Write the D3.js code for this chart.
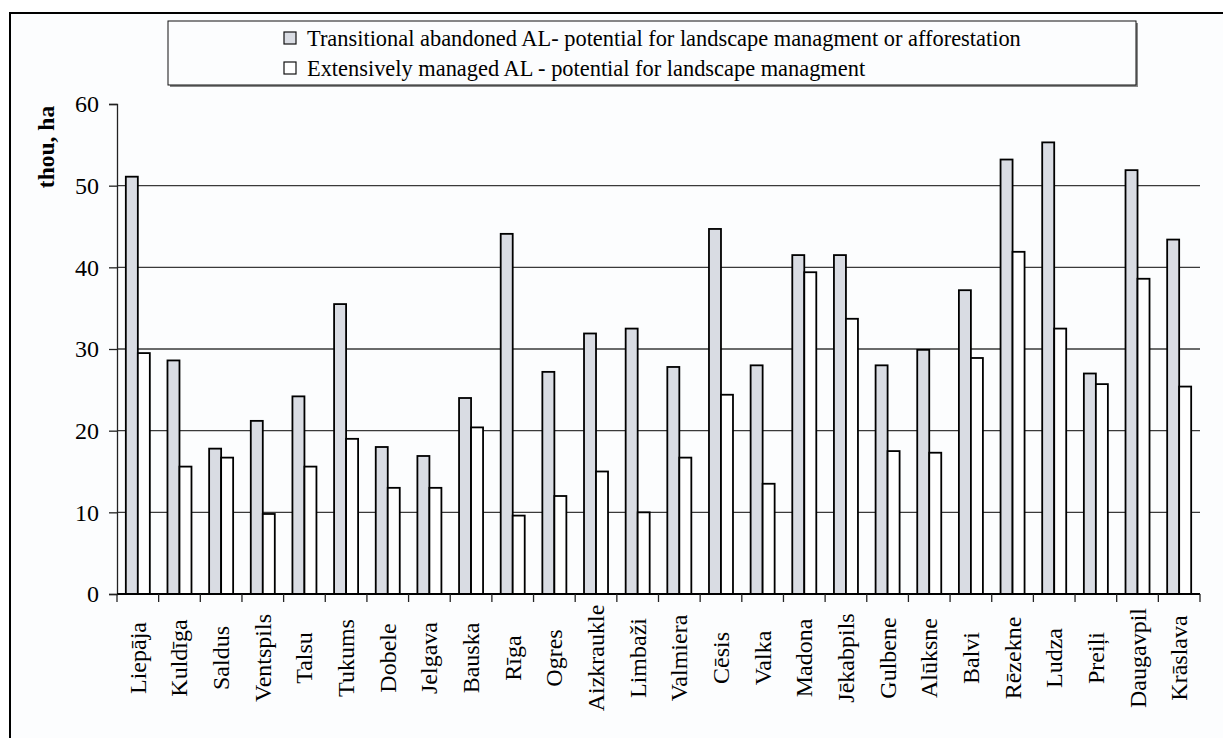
<!DOCTYPE html>
<html>
<head>
<meta charset="utf-8">
<script src="https://cdnjs.cloudflare.com/ajax/libs/d3/7.8.5/d3.min.js"></script>
<style>
  body { margin: 0; background: #ffffff; }
  svg { display: block; }
  text { font-family: "Liberation Serif", "Times New Roman", serif; fill: #000; }
</style>
</head>
<body>
<script>
// districts of Latvia
const districts = ["Liepāja", "Kuldīga", "Saldus", "Ventspils", "Talsu", "Tukums", "Dobele",
  "Jelgava", "Bauska", "Rīga", "Ogres", "Aizkraukle", "Limbaži", "Valmiera", "Cēsis", "Valka",
  "Madona", "Jēkabpils", "Gulbene", "Alūksne", "Balvi", "Rēzekne", "Ludza", "Preiļi",
  "Daugavpil", "Krāslava"];

// thou, ha
const transitional = [51.1, 28.6, 17.8, 21.2, 24.2, 35.5, 18.0, 16.9, 24.0, 44.1, 27.2, 31.9, 32.5,
  27.8, 44.7, 28.0, 41.5, 41.5, 28.0, 29.9, 37.2, 53.2, 55.3, 27.0, 51.9, 43.4];
const extensive = [29.5, 15.6, 16.7, 9.8, 15.6, 19.0, 13.0, 13.0, 20.4, 9.6, 12.0, 15.0, 10.0,
  16.7, 24.4, 13.5, 39.4, 33.7, 17.5, 17.3, 28.9, 41.9, 32.5, 25.7, 38.6, 25.4];

const seriesNames = ["Transitional abandoned AL- potential for landscape managment or afforestation",
  "Extensively managed AL - potential for landscape managment"];
const seriesFill = ["#d9dce3", "#ffffff"];
const yTicks = [0, 10, 20, 30, 40, 50, 60];

const svgWidth = 1223, svgHeight = 738;
const plot = {left: 117, right: 1200, top: 104, bottom: 594};
const serif = "'Liberation Serif', 'Times New Roman', serif";

const svg = d3.select("body").append("svg")
  .attr("width", svgWidth)
  .attr("height", svgHeight);

// chart frame (runs off the right and bottom edge)
svg.append("rect")
  .attr("x", 10).attr("y", 13)
  .attr("width", 1240).attr("height", 760)
  .attr("fill", "#fcfdfe")
  .attr("stroke", "#000").attr("stroke-width", 2);

const x0 = d3.scaleBand()
  .domain(districts)
  .range([plot.left, plot.right])
  .paddingInner(0).paddingOuter(0);

const x1 = d3.scaleBand()
  .domain([0, 1])
  .range([0, x0.bandwidth()])
  .paddingInner(0)
  .paddingOuter(0.735);

const y = d3.scaleLinear()
  .domain([0, 60])
  .range([plot.bottom, plot.top]);

// gridlines
svg.append("g")
  .selectAll("line")
  .data(yTicks.filter(d => d > 0 && d < 60))
  .join("line")
  .attr("x1", plot.left).attr("x2", plot.right)
  .attr("y1", d => y(d)).attr("y2", d => y(d))
  .attr("stroke", "#3a3a3a").attr("stroke-width", 1.3);

// bars
const rows = districts.map((d, i) => ({name: d, vals: [transitional[i], extensive[i]]}));

const groups = svg.append("g")
  .selectAll("g")
  .data(rows)
  .join("g")
  .attr("transform", d => "translate(" + x0(d.name) + ",0)");

groups.selectAll("rect")
  .data(d => d.vals.map((v, k) => ({k: k, v: v})))
  .join("rect")
  .attr("x", d => x1(d.k))
  .attr("y", d => y(d.v))
  .attr("width", x1.bandwidth())
  .attr("height", d => y(0) - y(d.v))
  .attr("fill", d => seriesFill[d.k])
  .attr("stroke", "#000")
  .attr("stroke-width", 1.8);

// y axis
const yAxis = d3.axisLeft(y)
  .tickValues(yTicks)
  .tickSize(8)
  .tickPadding(10)
  .tickFormat(d3.format("d"));

const gY = svg.append("g")
  .attr("transform", "translate(" + plot.left + ",0)")
  .attr("font-family", serif)
  .call(yAxis);
gY.attr("font-family", serif).attr("font-size", 24);
gY.select(".domain").attr("stroke", "#222").attr("stroke-width", 1.3);
gY.selectAll(".tick line").attr("stroke", "#222").attr("stroke-width", 1.3);
gY.selectAll(".tick text")
  .style("font-family", serif)
  .style("font-size", "24px");

// x axis: ticks at category boundaries
const boundaries = districts.map(d => x0(d)).concat([plot.right]);
svg.append("line")
  .attr("x1", plot.left).attr("x2", plot.right)
  .attr("y1", plot.bottom).attr("y2", plot.bottom)
  .attr("stroke", "#000").attr("stroke-width", 1.8);
svg.append("g")
  .selectAll("line")
  .data(boundaries)
  .join("line")
  .attr("x1", d => d).attr("x2", d => d)
  .attr("y1", plot.bottom).attr("y2", plot.bottom + 8)
  .attr("stroke", "#222").attr("stroke-width", 1.3);

// category labels
svg.append("g")
  .selectAll("text")
  .data(districts)
  .join("text")
  .attr("transform", d => "translate(" + (x0(d) + x0.bandwidth() / 2 + 8) + ",658) rotate(-90)")
  .attr("text-anchor", "middle")
  .style("font-size", "24px")
  .text(d => d);

// y title
svg.append("text")
  .attr("transform", "translate(54,147) rotate(-90)")
  .attr("text-anchor", "middle")
  .style("font-size", "23.5px")
  .style("font-weight", "bold")
  .text("thou, ha");

// legend
const legend = svg.append("g");
legend.append("rect")
  .attr("x", 170).attr("y", 23)
  .attr("width", 968).attr("height", 64)
  .attr("fill", "#888");
legend.append("rect")
  .attr("x", 168).attr("y", 21)
  .attr("width", 968).attr("height", 64)
  .attr("fill", "#fcfdfe")
  .attr("stroke", "#111").attr("stroke-width", 1);

const items = legend.selectAll("g.item")
  .data(seriesNames)
  .join("g")
  .attr("class", "item")
  .attr("transform", (d, i) => "translate(284," + (38 + i * 30) + ")");
items.append("rect")
  .attr("x", 0).attr("y", -6)
  .attr("width", 12).attr("height", 12)
  .attr("fill", (d, i) => seriesFill[i])
  .attr("stroke", "#111").attr("stroke-width", 1.2);
items.append("text")
  .attr("x", 23).attr("y", 7.5)
  .style("font-size", "22.4px")
  .text(d => d);
</script>
</body>
</html>
